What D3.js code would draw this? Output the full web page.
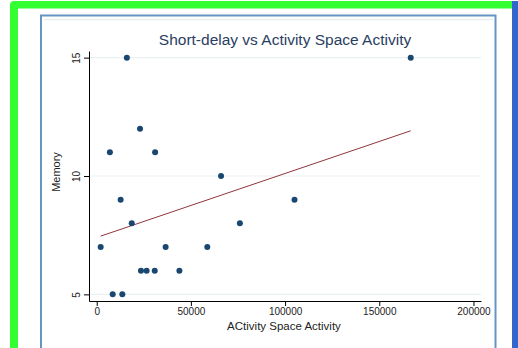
<!DOCTYPE html>
<html>
<head>
<meta charset="utf-8">
<script src="https://cdn.jsdelivr.net/npm/d3@7"></script>
<style>
  html, body { margin: 0; padding: 0; background: #fff; }
  svg { display: block; font-family: "Liberation Sans", Arial, sans-serif; }
</style>
</head>
<body>
<div id="chart"></div>
<script>
// Data
const activity = [16000, 23000, 7000, 31000, 66000, 12700, 105000, 18600, 76000, 2100,
                  36600, 58700, 23500, 26500, 30800, 43900, 8500, 13600, 166700];
const memory = [15, 12, 11, 11, 10, 9, 9, 8, 8, 7, 7, 7, 6, 6, 6, 6, 5, 5, 15];
const fitX = [2100, 166700];
const fitY = [7.46, 11.91];
const xTicks = [0, 50000, 100000, 150000, 200000];
const yTicks = [5, 10, 15];

const width = 518;
const height = 348;

const svg = d3.select('#chart')
  .append('svg')
  .attr('width', width)
  .attr('height', height);

// frame decorations
svg.append('path')
  .attr('d', 'M10,348 L10,5 Q10,1 14,1 L512,1 L512,8.5 L18,8.5 L18,348 Z')
  .attr('fill', '#33ff33');
svg.append('rect')
  .attr('x', 512).attr('y', 1).attr('width', 6).attr('height', 347)
  .attr('fill', '#3366cc');

// graph panel
svg.append('rect')
  .attr('x', 41).attr('y', 15.5).attr('width', 454.5).attr('height', 340)
  .attr('fill', '#fff')
  .attr('stroke', '#6496c4').attr('stroke-width', 2);
svg.append('line')
  .attr('x1', 44).attr('x2', 493).attr('y1', 19.5).attr('y2', 19.5)
  .attr('stroke', '#e6eef2').attr('stroke-width', 1.5);

// scales
const x = d3.scaleLinear().domain([-4090, 204000]).range([89, 481]);
const y = d3.scaleLinear().domain([4.72, 15.28]).range([301, 51]);

// grid
svg.append('g')
  .selectAll('line')
  .data(yTicks)
  .enter()
  .append('line')
  .attr('x1', x.range()[0]).attr('x2', x.range()[1])
  .attr('y1', d => y(d)).attr('y2', d => y(d))
  .attr('stroke', '#eaf2f3').attr('stroke-width', 1.2);

// axes
const xAxis = svg.append('g')
  .attr('transform', `translate(0, ${y.range()[0]})`)
  .call(d3.axisBottom(x).tickValues(xTicks).tickSize(5).tickSizeOuter(0).tickFormat(d3.format('d')));
xAxis.select('.domain').attr('stroke', '#000');
xAxis.selectAll('text').attr('fill', '#222').style('font-size', '10px').attr('dy', '0.55em');

const yAxis = svg.append('g')
  .attr('transform', `translate(${x.range()[0]}, 0)`)
  .call(d3.axisLeft(y).tickValues(yTicks).tickSize(5).tickSizeOuter(0));
yAxis.select('.domain').attr('stroke', '#000');
yAxis.selectAll('text')
  .attr('fill', '#222')
  .style('font-size', '10px')
  .attr('x', null).attr('dy', null)
  .attr('text-anchor', 'middle')
  .attr('transform', 'translate(-9, 0) rotate(-90)');

// fitted line
svg.append('line')
  .attr('x1', x(fitX[0])).attr('y1', y(fitY[0]))
  .attr('x2', x(fitX[1])).attr('y2', y(fitY[1]))
  .attr('stroke', '#90353b').attr('stroke-width', 1);

// points
svg.append('g')
  .selectAll('circle')
  .data(activity.map((a, i) => ({ a, m: memory[i] })))
  .enter()
  .append('circle')
  .attr('cx', d => x(d.a))
  .attr('cy', d => y(d.m))
  .attr('r', 3)
  .attr('fill', '#1a476f');

// titles
svg.append('text')
  .attr('x', 285).attr('y', 45)
  .attr('text-anchor', 'middle')
  .attr('fill', '#2a3e62')
  .style('font-size', '15.5px')
  .text('Short-delay vs Activity Space Activity');

svg.append('text')
  .attr('x', 284).attr('y', 330)
  .attr('text-anchor', 'middle')
  .attr('fill', '#222')
  .style('font-size', '11.5px')
  .text('ACtivity Space Activity');

svg.append('text')
  .attr('transform', 'translate(60, 172) rotate(-90)')
  .attr('text-anchor', 'middle')
  .attr('fill', '#222')
  .style('font-size', '11px')
  .text('Memory');
</script>
</body>
</html>
